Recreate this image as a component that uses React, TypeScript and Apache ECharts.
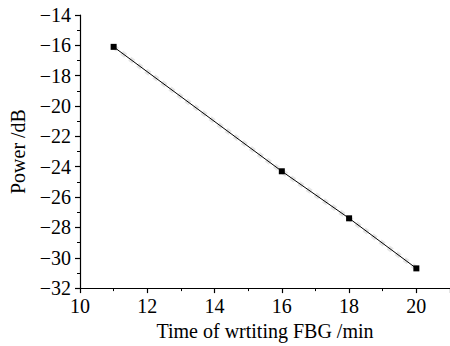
import React, { useEffect, useRef } from "react";
import * as echarts from "echarts";

const timeMin = [11, 16, 18, 20];
const powerDb = [-16.1, -24.3, -27.4, -30.7];

const FONT = "Liberation Serif";
const minus = (v: number) => String(v).replace("-", "\u2212");

export default function App() {
  const ref = useRef<HTMLDivElement>(null);
  useEffect(() => {
    const chart = echarts.init(ref.current!, null, { renderer: "svg" });
    const pts = timeMin.map((t, i) => [t, powerDb[i]]);
    chart.setOption({
      animation: false,
      backgroundColor: "#ffffff",
      textStyle: { fontFamily: FONT },
      grid: { left: 79, top: 15, width: 374, height: 276.5, containLabel: false },
      xAxis: {
        type: "value",
        min: 10,
        max: 21,
        interval: 2,
        name: "Time of wrtiting FBG /min",
        nameLocation: "middle",
        nameGap: 30,
        nameTextStyle: { fontFamily: FONT, fontSize: 20, color: "#000" },
        axisLine: { lineStyle: { color: "#000", width: 1.2 } },
        axisTick: { show: true, inside: false, length: 5, lineStyle: { color: "#000", width: 1.2 } },
        minorTick: { show: true, splitNumber: 2, length: 3, lineStyle: { color: "#000", width: 1 } },
        axisLabel: { fontFamily: FONT, fontSize: 20, color: "#000", margin: 8, showMaxLabel: false },
        splitLine: { show: false },
      },
      yAxis: {
        type: "value",
        min: -32,
        max: -14,
        interval: 2,
        name: "Power /dB",
        nameLocation: "middle",
        nameGap: 52,
        nameTextStyle: { fontFamily: FONT, fontSize: 20, color: "#000" },
        axisLine: { show: true, lineStyle: { color: "#000", width: 1.2 } },
        axisTick: { show: true, inside: false, length: 5, lineStyle: { color: "#000", width: 1.2 } },
        minorTick: { show: true, splitNumber: 2, length: 3, lineStyle: { color: "#000", width: 1 } },
        axisLabel: { fontFamily: FONT, fontSize: 20, color: "#000", margin: 9, formatter: minus },
        splitLine: { show: false },
      },
      series: [
        {
          type: "line",
          data: pts,
          symbol: "none",
          silent: true,
          lineStyle: { color: "#e6e6e6", width: 5, type: "dotted" },
          z: 1,
        },
        {
          type: "line",
          data: pts,
          symbol: "rect",
          symbolSize: 6,
          itemStyle: { color: "#000" },
          lineStyle: { color: "#000", width: 1 },
          z: 2,
        },
      ],
    });
    return () => chart.dispose();
  }, []);
  return <div ref={ref} style={{ width: 450, height: 346, position: "absolute", left: 0, top: 0 }} />;
}
